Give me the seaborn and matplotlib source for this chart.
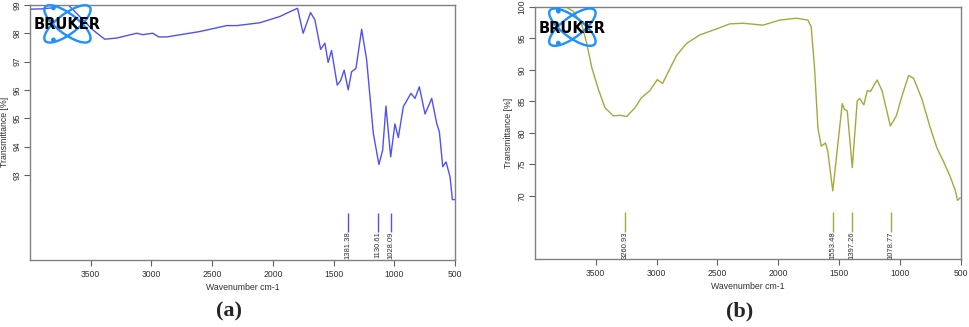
import matplotlib
matplotlib.use("Agg")
import matplotlib.pyplot as plt
from matplotlib.patches import Ellipse, Circle
import seaborn as sns

# FT-IR spectrum (a)
wn_a = [4003, 3900, 3814, 3750, 3690, 3591, 3484, 3385, 3287, 3122, 3072, 2990,
        2940, 2874, 2602, 2380, 2297, 2108, 1943, 1860, 1797, 1751, 1690, 1654,
        1607, 1572, 1545, 1517, 1470, 1442, 1413, 1380, 1352, 1316, 1269, 1228,
        1173, 1127, 1096, 1069, 1030, 995, 967, 926, 863, 830, 794, 747, 692,
        651, 629, 601, 574, 541, 522, 500]
tr_a = [98.85, 98.86, 98.9, 99.0, 99.02, 98.59, 98.12, 97.79, 97.83, 98.0, 97.95, 98.0,
        97.87, 97.87, 98.06, 98.27, 98.27, 98.37, 98.59, 98.76, 98.88, 98.0, 98.73, 98.47,
        97.43, 97.65, 96.97, 97.39, 96.17, 96.33, 96.7, 96.0, 96.64, 96.76, 98.14, 97.06,
        94.47, 93.37, 93.88, 95.43, 93.64, 94.8, 94.32, 95.41, 95.88, 95.7, 96.11, 95.15, 95.7,
        94.82, 94.52, 93.29, 93.46, 92.93, 92.13, 92.13]
peaks_a = [1381.38, 1130.61, 1028.09]

# FT-IR spectrum (b)
wn_b = [3994, 3850, 3738, 3684, 3615, 3574, 3533, 3479, 3424, 3356, 3301, 3246,
        3178, 3124, 3056, 2995, 2951, 2891, 2836, 2754, 2645, 2508, 2399, 2290,
        2126, 1989, 1852, 1757, 1730, 1703, 1675, 1648, 1613, 1594, 1553, 1475,
        1457, 1434, 1393, 1352, 1331, 1298, 1270, 1243, 1189, 1148, 1080, 1031,
        984, 930, 890, 820, 752, 697, 643, 588, 547, 528, 506]
tr_b = [100.0, 100.0, 99.9, 99.3, 97.2, 94.2, 90.4, 86.95, 84.0, 82.7, 82.8, 82.6,
        84.0, 85.6, 86.7, 88.45, 87.85, 90.2, 92.3, 94.2, 95.55, 96.5, 97.3, 97.4,
        97.1, 97.9, 98.2, 97.9, 96.8, 90.4, 80.8, 77.9, 78.4, 77.1, 70.8, 84.65,
        83.75, 83.5, 74.5, 85.1, 85.45, 84.45, 86.7, 86.6, 88.4, 86.7, 81.1, 82.7,
        85.9, 89.1, 88.7, 85.35, 80.8, 77.6, 75.45, 73.05, 70.9, 69.3, 69.7]
peaks_b = [3260.93, 1553.48, 1397.26, 1078.77]

sns.set_style("white")
plt.rcParams["font.family"] = ["Liberation Sans", "DejaVu Sans"]

fig = plt.figure(figsize=(9.69, 3.27), dpi=100)
ax_a = fig.add_axes([0.031, 0.205, 0.4386, 0.78])
ax_b = fig.add_axes([0.552, 0.208, 0.4397, 0.771])


def draw_logo(ax, box):
    lg = ax.inset_axes(box)
    lg.set_xlim(0, 51)
    lg.set_ylim(0, 40)
    lg.axis("off")
    lg.patch.set_alpha(0)
    lg.set_zorder(5)
    for ang in (37, -37):
        lg.add_patch(Ellipse((25.5, 20), 56, 20, angle=ang, fill=False,
                             ec="#1e90ff", lw=1.7))
    lg.add_patch(Circle((11.5, 36), 1.7, color="#1e90ff"))
    lg.add_patch(Circle((11.5, 4), 1.7, color="#1e90ff"))
    lg.text(25.5, 19, "BRUKER", ha="center", va="center", fontsize=10.5,
            fontweight="bold", color="black", family="DejaVu Sans")


def panel(ax, wn, tr, peaks, color, ylim, yticks, line_y, lab_y, logo_box, ylab_x):
    sns.lineplot(x=wn, y=tr, ax=ax, color=color, lw=1.0)
    ax.set_xlim(4000, 500)
    ax.set_ylim(*ylim)
    ax.set_xticks([3500, 3000, 2500, 2000, 1500, 1000, 500])
    ax.set_yticks(yticks)
    ax.tick_params(axis="both", labelsize=6.2, length=4, width=0.8,
                   color="#606060", labelcolor="#303030", direction="out",
                   bottom=True, left=True)
    ax.tick_params(axis="y", labelrotation=90, pad=2)
    for lab in ax.get_yticklabels():
        lab.set_va("center")
    for s in ax.spines.values():
        s.set_color("#808080")
        s.set_linewidth(1.0)
    ax.set_xlabel("Wavenumber cm-1", fontsize=6.3, color="#303030", labelpad=2.5)
    ax.set_ylabel("Transmittance [%]", fontsize=6.3, color="#303030")
    ax.yaxis.set_label_coords(ylab_x, 0.5)
    trans = ax.get_xaxis_transform()
    ax.vlines(peaks, line_y[0], line_y[1], transform=trans, color=color, lw=1.0)
    for p in peaks:
        ax.text(p, lab_y, f"{p:.2f}", transform=trans, rotation=90, ha="center",
                va="center", fontsize=5.5, color="#303030")
    draw_logo(ax, logo_box)


panel(ax_a, wn_a, tr_a, peaks_a, "#5050f5", (90, 99), [93, 94, 95, 96, 97, 98, 99],
      (0.11, 0.184), 0.059, [0.028, 0.847, 0.12, 0.157], -0.049)
panel(ax_b, wn_b, tr_b, peaks_b, "#a2aa3c", (60, 100), [70, 75, 80, 85, 90, 95, 100],
      (0.107, 0.187), 0.053, [0.028, 0.84, 0.12, 0.159], -0.052)

fig.text(0.236, 0.046, "(a)", ha="center", va="center", fontsize=16,
         fontweight="bold", family="Liberation Serif")
fig.text(0.763, 0.046, "(b)", ha="center", va="center", fontsize=16,
         fontweight="bold", family="Liberation Serif")

fig.savefig("out.png", dpi=100)
